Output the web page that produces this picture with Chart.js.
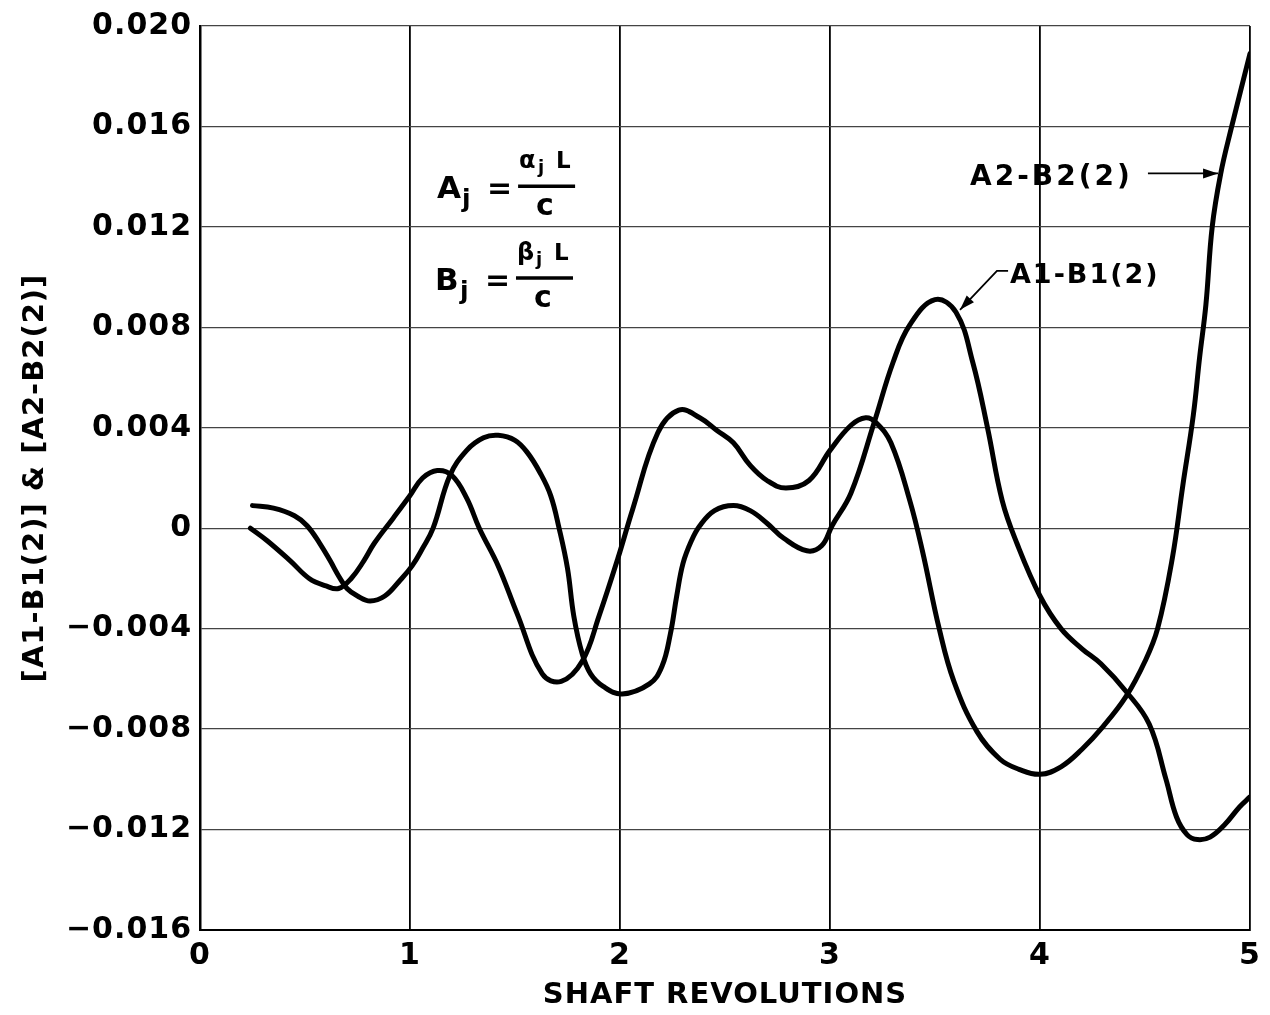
<!DOCTYPE html>
<html>
<head>
<meta charset="utf-8">
<script src="https://cdn.jsdelivr.net/npm/chart.js@4.4.1/dist/chart.umd.min.js"></script>
<style>
  html, body { margin: 0; padding: 0; background: #fff; }
  #wrap { width: 1270px; height: 1015px; }
</style>
</head>
<body>
<div id="wrap"><canvas id="shaft"></canvas></div>
<script>
/*_____________________DATA____________________*/

// A1-B1(2) curve
const a1_x = [0.25, 0.35, 0.45, 0.51, 0.57, 0.62, 0.66, 0.70, 0.75, 0.81, 0.88, 0.95, 1.01, 1.06, 1.11,
              1.19, 1.27, 1.35, 1.42, 1.50, 1.56, 1.62, 1.67, 1.71, 1.75, 1.78, 1.82, 1.86, 1.92, 2.01,
              2.14, 2.20, 2.24, 2.27, 2.30, 2.34, 2.38, 2.45, 2.54, 2.62, 2.70, 2.78, 2.89, 2.96, 3.01,
              3.10, 3.21, 3.30, 3.38, 3.50, 3.60, 3.68, 3.75, 3.82, 3.89, 4.00, 4.10, 4.20, 4.29, 4.41,
              4.52, 4.60, 4.65, 4.70, 4.75, 4.81, 4.88, 4.95, 5.00];
const a1_y = [0.0009, 0.0008, 0.0005, 0.0001, -0.0006, -0.0013, -0.0019, -0.0024, -0.0027, -0.0029, -0.0027, -0.0021, -0.0015, -0.0008, 0.0000,
              0.0021, 0.0031, 0.0036, 0.0037, 0.0035, 0.0030, 0.0022, 0.0013, 0.0000, -0.0016, -0.0035, -0.0050, -0.0058, -0.0063, -0.0066,
              -0.0062, -0.0055, -0.0042, -0.0027, -0.0014, -0.0005, 0.0001, 0.0007, 0.0009, 0.0007, 0.0002, -0.0004, -0.0009, -0.0007, 0.0001,
              0.0014, 0.0042, 0.0066, 0.0081, 0.0091, 0.0086, 0.0066, 0.0040, 0.0011, -0.0006, -0.0027, -0.0040, -0.0048, -0.0054, -0.0065,
              -0.0078, -0.0100, -0.0115, -0.0122, -0.0124, -0.0123, -0.0118, -0.0111, -0.0107];

// A2-B2(2) curve
const a2_x = [0.24, 0.32, 0.43, 0.52, 0.60, 0.66, 0.72, 0.78, 0.83, 0.92, 1.00, 1.06, 1.13, 1.20, 1.27,
              1.33, 1.42, 1.51, 1.63, 1.72, 1.82, 1.90, 1.99, 2.06, 2.18, 2.28, 2.38, 2.46, 2.54, 2.62,
              2.70, 2.79, 2.90, 3.00, 3.10, 3.17, 3.22, 3.29, 3.38, 3.44, 3.52, 3.59, 3.70, 3.81, 3.90,
              4.00, 4.10, 4.20, 4.30, 4.41, 4.50, 4.56, 4.63, 4.68, 4.73, 4.76, 4.79, 4.82, 4.86, 4.91, 5.00];
const a2_y = [0.0000, -0.0005, -0.0013, -0.0020, -0.0023, -0.0024, -0.0020, -0.0013, -0.0006, 0.0004, 0.0013, 0.0020, 0.0023, 0.0021, 0.0012,
              0.0000, -0.0015, -0.0034, -0.0058, -0.0061, -0.0053, -0.0035, -0.0012, 0.00075, 0.0038, 0.0047, 0.0044, 0.0039, 0.0034, 0.0025,
              0.0019, 0.0016, 0.0019, 0.0031, 0.0041, 0.0044, 0.0042, 0.0034, 0.0011, -0.0009, -0.0040, -0.0061, -0.0081, -0.0092, -0.0096,
              -0.0098, -0.0095, -0.0088, -0.0079, -0.0067, -0.0053, -0.0040, -0.0012, 0.0017, 0.0045, 0.0068, 0.0089, 0.0120, 0.0141, 0.0159, 0.0189];

const x_ticks = [0, 1, 2, 3, 4, 5];
const x_tick_labels = ['0', '1', '2', '3', '4', '5'];
const y_ticks = [-0.016, -0.012, -0.008, -0.004, 0, 0.004, 0.008, 0.012, 0.016, 0.020];
const y_tick_labels = ['\u22120.016', '\u22120.012', '\u22120.008', '\u22120.004', '0', '0.004', '0.008', '0.012', '0.016', '0.020'];

const FONT = "'DejaVu Sans', sans-serif";

function pairs(xs, ys) {
  return xs.map((x, i) => ({x: x, y: ys[i]}));
}

/*_____________________NOTES____________________*/

function arrow_head(ctx, x0, y0, x1, y1) {
  const a = Math.atan2(y1 - y0, x1 - x0);
  const c = Math.cos(a), s = Math.sin(a);
  ctx.beginPath();
  ctx.moveTo(x1, y1);
  ctx.lineTo(x1 - 15 * c + 5 * s, y1 - 15 * s - 5 * c);
  ctx.lineTo(x1 - 15 * c - 5 * s, y1 - 15 * s + 5 * c);
  ctx.closePath();
  ctx.fill();
}

function text_at(ctx, str, x, y, size, spacing) {
  ctx.font = 'bold ' + size + 'px ' + FONT;
  ctx.letterSpacing = (spacing || 0) + 'px';
  ctx.fillText(str, x, y);
}

function formula(ctx, x, y, lead, greek) {
  text_at(ctx, lead, x, y, 31);
  text_at(ctx, 'j', x + 25, y + 9, 25);
  text_at(ctx, '=', x + 50, y, 30);
  text_at(ctx, greek, x + 82, y - 30, 24);
  text_at(ctx, 'j', x + 101, y - 25, 18);
  text_at(ctx, 'L', x + 119, y - 30, 23);
  ctx.lineWidth = 3.5;
  ctx.beginPath();
  ctx.moveTo(x + 81, y - 12);
  ctx.lineTo(x + 138, y - 12);
  ctx.stroke();
  text_at(ctx, 'c', x + 99, y + 17, 30);
}

const notes = {
  id: 'notes',
  beforeDraw(chart) {
    chart.ctx.letterSpacing = '1px';
  },
  afterDraw(chart) {
    const ctx = chart.ctx;
    const sx = chart.scales.x, sy = chart.scales.y;
    const px = v => sx.getPixelForValue(v);
    const py = v => sy.getPixelForValue(v);
    ctx.save();
    ctx.fillStyle = '#000';
    ctx.strokeStyle = '#000';
    ctx.textAlign = 'left';
    ctx.textBaseline = 'alphabetic';

    formula(ctx, px(1.129), py(0.01314), 'A', '\u03b1');
    formula(ctx, px(1.119), py(0.00949), 'B', '\u03b2');

    // A2-B2(2) label and arrow
    text_at(ctx, 'A2-B2(2)', px(3.667), py(0.01365), 28, 3);
    ctx.lineWidth = 1.8;
    ctx.letterSpacing = '0px';
    let x0 = px(4.514), x1 = px(4.848), y0 = py(0.01413);
    ctx.beginPath();
    ctx.moveTo(x0, y0);
    ctx.lineTo(x1, y0);
    ctx.stroke();
    arrow_head(ctx, x0, y0, x1, y0);

    // A1-B1(2) label and leader
    text_at(ctx, 'A1-B1(2)', px(3.857), py(0.00977), 27, 2);
    const lx = px(3.848), kx = px(3.795), tx = px(3.619);
    const ly = py(0.01025), ty = py(0.0087);
    ctx.beginPath();
    ctx.moveTo(lx, ly);
    ctx.lineTo(kx, ly);
    ctx.lineTo(tx, ty);
    ctx.stroke();
    arrow_head(ctx, kx, ly, tx, ty);
    ctx.restore();
  }
};

/*_____________________CHART____________________*/

const line_style = {
  borderColor: '#000',
  borderWidth: 5,
  pointRadius: 0,
  tension: 0.4,
  borderCapStyle: 'round',
  borderJoinStyle: 'round',
  fill: false
};

const shaft = document.getElementById('shaft');
new Chart(shaft, {
  type: 'line',
  data: {
    datasets: [
      Object.assign({label: 'A1-B1(2)', data: pairs(a1_x, a1_y)}, line_style),
      Object.assign({label: 'A2-B2(2)', data: pairs(a2_x, a2_y)}, line_style)
    ]
  },
  options: {
    animation: false,
    responsive: true,
    maintainAspectRatio: false,
    layout: {padding: {top: 22, right: 20, bottom: 2, left: 8}},
    plugins: {
      legend: {display: false},
      tooltip: {enabled: false}
    },
    scales: {
      x: {
        type: 'linear',
        min: 0,
        max: 5,
        afterBuildTicks: s => { s.ticks = x_ticks.map(v => ({value: v})); },
        afterFit: s => { s.height = 83; },
        ticks: {
          callback: (v, i) => x_tick_labels[i],
          font: {family: FONT, size: 30, weight: 'bold'},
          color: '#000',
          padding: 8,
          maxRotation: 0,
          autoSkip: false
        },
        grid: {color: '#000', lineWidth: 1.8, drawTicks: false},
        border: {color: '#000', width: 2},
        title: {
          display: true,
          text: 'SHAFT REVOLUTIONS',
          font: {family: FONT, size: 29, weight: 'bold'},
          color: '#000',
          padding: {top: 0, bottom: 0}
        }
      },
      y: {
        min: -0.016,
        max: 0.020,
        afterBuildTicks: s => { s.ticks = y_ticks.map(v => ({value: v})); },
        afterFit: s => { s.width = 192; },
        ticks: {
          callback: (v, i) => y_tick_labels[i],
          font: {family: FONT, size: 30, weight: 'bold'},
          color: '#000',
          padding: 8
        },
        grid: {color: '#444', lineWidth: 1.3, drawTicks: false},
        border: {color: '#000', width: 2.5},
        title: {
          display: true,
          text: '[A1-B1(2)] & [A2-B2(2)]',
          font: {family: FONT, size: 29, weight: 'bold'},
          color: '#000',
          padding: {top: 10, bottom: 0}
        }
      }
    }
  },
  plugins: [notes]
});
</script>
</body>
</html>
